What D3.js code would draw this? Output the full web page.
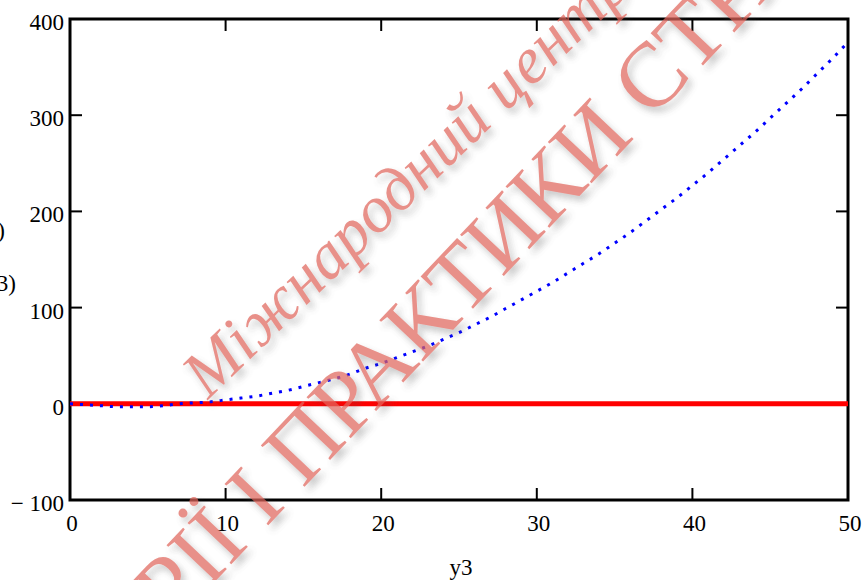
<!DOCTYPE html>
<html>
<head>
<meta charset="utf-8">
<script src="https://cdn.jsdelivr.net/npm/d3@7"></script>
<style>
  body { margin: 0; background: #fff; }
  svg text { font-family: "Liberation Serif", "Times New Roman", serif; }
</style>
</head>
<body>
<svg id="chart"></svg>
<script>
// chart size
const width = 867;
const height = 580;

// data
const xValues = [0, 1, 2, 3, 4, 5, 6, 7, 8, 9, 10, 11, 12, 13, 14, 15, 16, 17, 18, 19, 20,
                 21, 22, 23, 24, 25, 26, 27, 28, 29, 30, 31, 32, 33, 34, 35, 36, 37, 38, 39, 40,
                 41, 42, 43, 44, 45, 46, 47, 48, 49, 50];
const blueValues = [0, -1, -2, -3, -3, -3, -2, 0, 1, 2, 4, 6, 8, 11, 14, 18, 22, 26, 31, 37, 42,
                    48, 54, 60, 67, 74, 82, 90, 99, 108, 117, 126, 136, 146, 156, 167, 178, 190, 202, 214, 227,
                    240, 254, 268, 282, 297, 312, 327, 343, 359, 376];
const redX = [0, 50];
const redValues = [0, 0];

const xTicks = [0, 10, 20, 30, 40, 50];
const yTicks = [-100, 0, 100, 200, 300, 400];
const xLabel = "y3";
const yLabels = ["f(y3)", "g(y3)"];
const watermarkTop = "Міжнародний центр";
const watermarkBottom = "ТЕОРІЇ І ПРАКТИКИ СТРАТЕГІЧНИХ";

const svg = d3.select("#chart")
              .attr("width", width)
              .attr("height", height);

// scales
const x = d3.scaleLinear().domain([0, 50]).range([70, 848]);
const y = d3.scaleLinear().domain([-100, 400]).range([500, 19]);

// inward ticks on all four sides
const tickLen = 12;
const innerX = xTicks.filter(d => d > 0 && d < 50);
const innerY = yTicks.filter(d => d > -100 && d < 400);

svg.selectAll(".tb").data(innerX).enter().append("line")
   .attr("x1", d => x(d)).attr("x2", d => x(d))
   .attr("y1", y(-100)).attr("y2", y(-100) - tickLen)
   .attr("stroke", "#000").attr("stroke-width", 2);
svg.selectAll(".tt").data(innerX).enter().append("line")
   .attr("x1", d => x(d)).attr("x2", d => x(d))
   .attr("y1", y(400)).attr("y2", y(400) + tickLen)
   .attr("stroke", "#000").attr("stroke-width", 2);
svg.selectAll(".tl").data(innerY).enter().append("line")
   .attr("x1", x(0)).attr("x2", x(0) + tickLen)
   .attr("y1", d => y(d)).attr("y2", d => y(d))
   .attr("stroke", "#000").attr("stroke-width", 2);
svg.selectAll(".tr").data(innerY).enter().append("line")
   .attr("x1", x(50)).attr("x2", x(50) - tickLen)
   .attr("y1", d => y(d)).attr("y2", d => y(d))
   .attr("stroke", "#000").attr("stroke-width", 2);

// plot frame
svg.append("rect")
   .attr("x", x(0)).attr("y", y(400))
   .attr("width", x(50) - x(0)).attr("height", y(-100) - y(400))
   .attr("fill", "none").attr("stroke", "#000").attr("stroke-width", 3);

// tick labels
svg.selectAll(".xl").data(xTicks).enter().append("text")
   .attr("x", d => x(d) + 2).attr("y", 531)
   .attr("text-anchor", "middle")
   .attr("font-size", 23)
   .text(d => d);
svg.selectAll(".yl").data(yTicks).enter().append("text")
   .attr("x", 64).attr("y", d => y(d) + 11)
   .attr("text-anchor", "end")
   .attr("font-size", 23)
   .text(d => d < 0 ? "\u2212 " + Math.abs(d) : d);

// axis titles
svg.append("text")
   .attr("x", 461).attr("y", 575)
   .attr("text-anchor", "middle")
   .attr("font-size", 23)
   .text(xLabel);
svg.append("text")
   .attr("x", 5).attr("y", 238)
   .attr("text-anchor", "end")
   .attr("font-size", 23)
   .text(yLabels[0]);
svg.append("text")
   .attr("x", 16).attr("y", 291)
   .attr("text-anchor", "end")
   .attr("font-size", 23)
   .text(yLabels[1]);

// series
const line = d3.line().x(d => x(d[0])).y(d => y(d[1]));

svg.append("path")
   .datum(d3.zip(redX, redValues))
   .attr("d", line)
   .attr("fill", "none")
   .attr("stroke", "#ff0000")
   .attr("stroke-width", 5);

svg.append("path")
   .datum(d3.zip(xValues, blueValues))
   .attr("d", d3.line().curve(d3.curveMonotoneX).x(d => x(d[0])).y(d => y(d[1])))
   .attr("fill", "none")
   .attr("stroke", "#0000ff")
   .attr("stroke-width", 3)
   .attr("stroke-dasharray", "3 7");

// watermark with soft shadow
const defs = svg.append("defs");
const shadow = defs.append("filter").attr("id", "wm-shadow")
                   .attr("x", "-20%").attr("y", "-20%")
                   .attr("width", "140%").attr("height", "140%");
shadow.append("feDropShadow")
      .attr("dx", 4).attr("dy", 5)
      .attr("stdDeviation", 3.5)
      .attr("flood-color", "#555")
      .attr("flood-opacity", 0.45);

const wm = svg.append("g")
              .attr("filter", "url(#wm-shadow)")
              .attr("opacity", 0.72);

wm.append("text")
  .attr("transform", "translate(208,400) rotate(-44)")
  .attr("font-size", 66)
  .attr("font-style", "italic")
  .attr("fill", "#e0665c")
  .text(watermarkTop);

wm.append("text")
  .attr("transform", "translate(50,756) rotate(-46.6)")
  .attr("font-size", 92)
  .attr("fill", "#e0665c")
  .text(watermarkBottom);
</script>
</body>
</html>
